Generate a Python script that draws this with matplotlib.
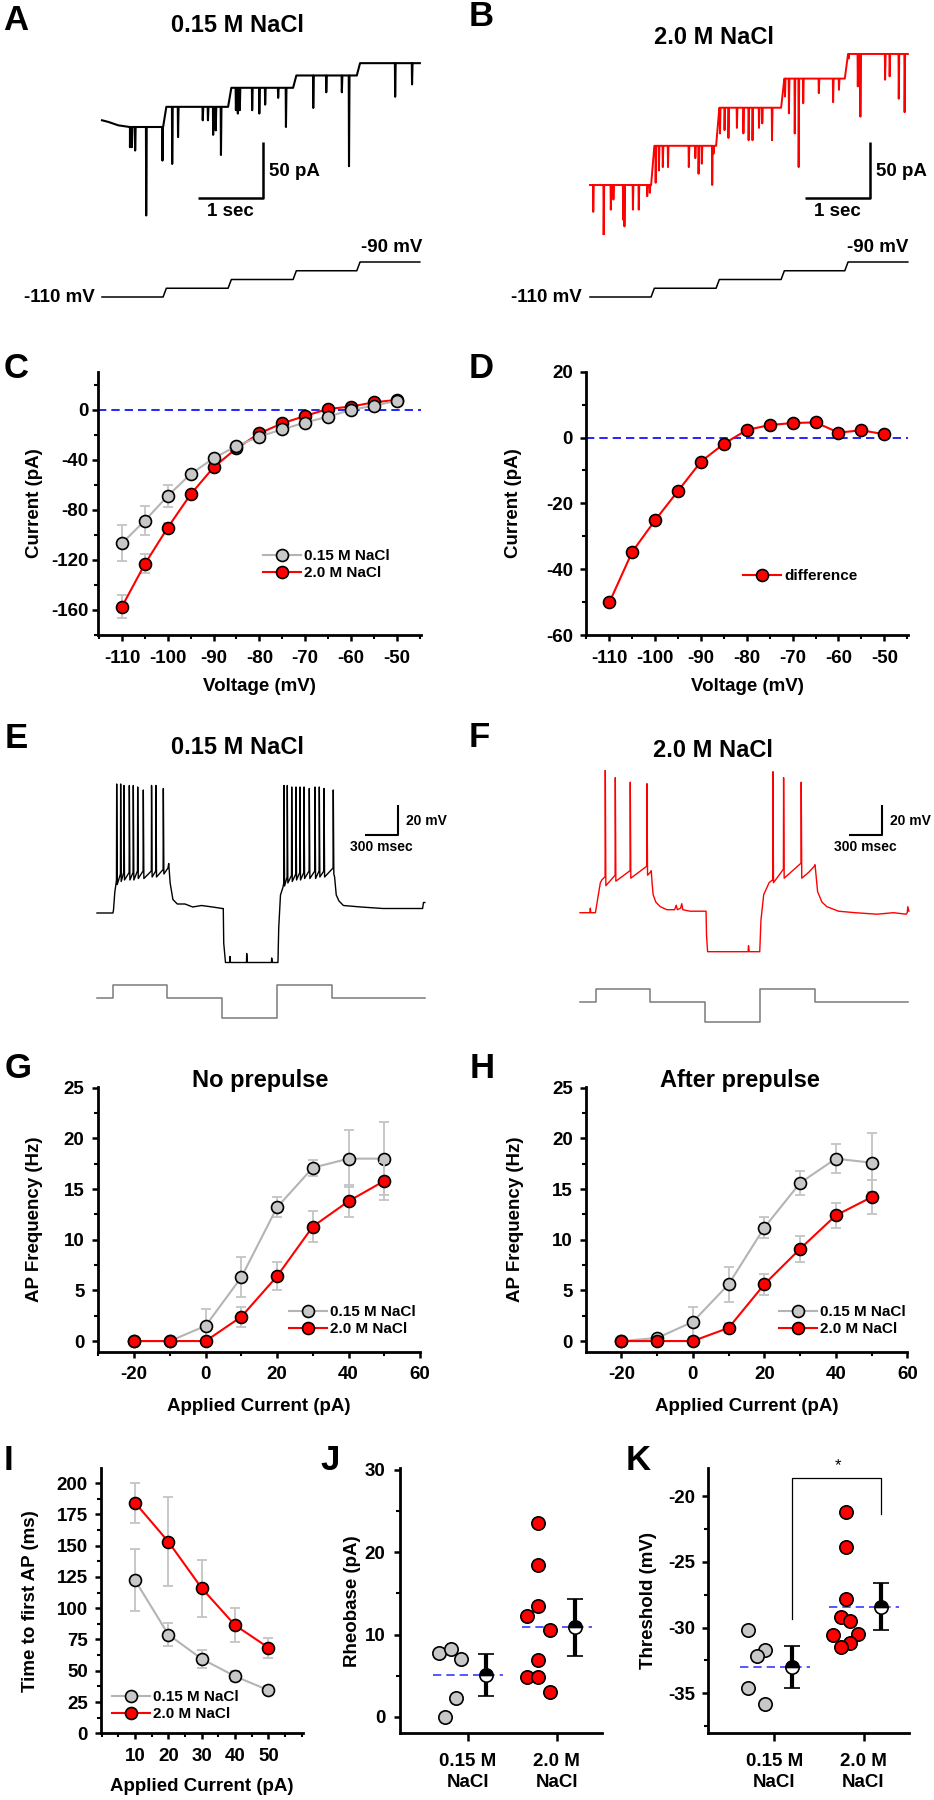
import numpy as np
import matplotlib
matplotlib.use("Agg")
import matplotlib.pyplot as plt
from matplotlib.ticker import MultipleLocator

plt.rcParams['font.family'] = ['Liberation Sans', 'DejaVu Sans']
plt.rcParams['font.weight'] = 'bold'
plt.rcParams['axes.labelweight'] = 'bold'
plt.rcParams['axes.unicode_minus'] = False

W, H = 934, 1800
RED = '#FF0000'
GRAY = '#C8C8C8'
GRAY_LINE = '#B4B4B4'
ERR = '#C4C4C4'
BLUE = '#0000FF'

# ---------------- data ----------------
# A / B: voltage-clamp step recordings (time in s, current in pA relative to first step)
step_bounds = [0, 0.94, 1.94, 2.94, 3.92, 4.89]
cmd_levels = [-110, -105, -100, -95, -90]

A_levels = [0, 18, 35, 46, 57]
A_sag_t = [0, 0.1, 0.25, 0.43]
A_sag_v = [6, 4.5, 1.5, 0]
A_evt_t = [0.43, 0.46, 0.51, 0.68, 0.93, 1.08, 1.17, 1.55, 1.63, 1.71, 1.75, 1.83,
           2.06, 2.09, 2.12, 2.31, 2.42, 2.51, 2.71, 2.83, 3.25, 3.45, 3.69, 3.80,
           4.51, 4.77]
A_evt_v = [-18, -18, -21, -79, -30, -33, -9, 6, 6, -7, -3, -25,
           15, 12, 15, 15, 12, 20, 26, 0, 17, 31, 31, -35,
           27, 38]

B_levels = [0, 35, 69, 95, 117]
B_evt_t = [0.05, 0.21, 0.32, 0.36, 0.51, 0.53, 0.66, 0.75, 0.88, 0.92,
           1.01, 1.06, 1.12, 1.20, 1.52, 1.62, 1.67, 1.72, 1.88, 1.90,
           2.00, 2.07, 2.13, 2.26, 2.36, 2.44, 2.50, 2.60, 2.65, 2.80,
           3.00, 3.06, 3.15, 3.21, 3.28, 3.52, 3.74, 3.83,
           3.98, 4.12, 4.16, 4.54, 4.61, 4.75, 4.84]
B_evt_v = [-24, -49, -22, -13, -31, -37, -22, -22, -10, -7,
           2, 13, 16, 16, 16, 24, 10, 19, 0, 28,
           46, 49, 42, 51, 46, 40, 40, 51, 55, 40,
           79, 64, 46, 16, 73, 82, 74, 85,
           113, 88, 61, 94, 97, 77, 65]

# C / D: I-V relations
volt = [-110, -105, -100, -95, -90, -85, -80, -75, -70, -65, -60, -55, -50]
iv_low = [-106.7, -88.5, -68.8, -51.2, -38.7, -28.8, -21.3, -15.5, -10.1, -5.3, 0.0, 3.5, 7.2]
iv_low_err = [14.3, 11.5, 8.5, 2.5, 2, 2, 2, 1.5, 1.5, 1.5, 1.5, 1.5, 1.5]
iv_high = [-157.3, -123.2, -94.1, -67.5, -45.9, -30.7, -18.7, -10.7, -4.8, 0.8, 2.7, 6.1, 8.0]
iv_high_err = [9.3, 7.6, 4, 3, 2, 2, 2, 1.5, 1.5, 1.5, 1.5, 1.5, 1.5]
iv_diff = [-50.1, -34.7, -25.1, -16.2, -7.3, -1.9, 2.3, 3.8, 4.4, 4.6, 1.5, 2.2, 1.0]

# E / F: current-clamp recordings (time in ms, mV relative to rest)
stim_bounds = [0, 145, 636, 1136, 1636, 2136, 2982]
stim_levels = [0, 20, 0, -32, 20, 0]

E_env_t = [0, 145, 150, 162, 172, 645, 652, 665, 690, 730, 800, 870, 950, 1050, 1140,
           1148, 1152, 1168, 1207, 1209, 1213, 1359, 1361, 1366, 1586, 1588, 1593, 1645,
           1652, 1668, 1690, 2160, 2175, 2200, 2240, 2400, 2600, 2800, 2960, 2968, 2980]
E_env_v = [0, 0, 2, 14, 19, 30, 33, 20, 9, 6, 6, 4, 5, 4, 3,
           3, -20, -33, -33, -29, -33, -33, -27, -33, -33, -30, -33, -33,
           -10, 12, 17, 24, 12, 8, 5, 4, 3, 3, 3, 7, 7]
E_spk_t = [179, 215, 245, 294, 330, 370, 421, 496, 536, 603,
           1700, 1730, 1770, 1809, 1845, 1882, 1930, 1982, 2021, 2064, 2148]
E_spk_peak = [86, 86, 85, 85, 85, 84, 82, 85, 85, 83,
              85, 85, 84, 84, 84, 84, 83, 84, 84, 83, 82]
E_spk_thr = [22, 26, 27, 27, 27, 28, 28, 28, 28, 29,
             20, 24, 25, 26, 27, 27, 28, 28, 28, 28, 30]
E_spk_ahp = [19, 21, 22, 22, 22, 23, 23, 24, 24, 26,
             18, 20, 21, 22, 22, 23, 23, 23, 24, 24, 26]

F_env_t = [0, 90, 94, 98, 140, 185, 200, 640, 648, 655, 665, 690, 730, 790, 860, 875,
           885, 915, 925, 935, 1000, 1094, 1146, 1150, 1160, 1528, 1532, 1538, 1634,
           1645, 1670, 1719, 2080, 2130, 2136, 2142, 2160, 2200, 2245, 2350, 2500,
           2700, 2850, 2965, 2975, 2980, 2990]
F_env_v = [0, 0, 3, 0, 0, 20, 22, 27, 28, 20, 12, 7, 4, 2, 2, 5,
           2, 3, 6, 2, 1, 1, 1, -15, -26, -26, -22, -26, -26,
           -5, 12, 20, 27, 31, 32, 28, 14, 7, 4, 1, 0,
           -1, 0, -1, 0, 4, 1]
F_spk_t = [230, 321, 457, 609, 1754, 1851, 2011]
F_spk_peak = [95, 90, 87, 86, 94, 90, 87]
F_spk_thr = [24, 25, 28, 31, 22, 29, 33]
F_spk_ahp = [18, 21, 23, 25, 20, 23, 23]

# G / H: firing frequency vs applied current
inj = [-20, -10, 0, 10, 20, 30, 40, 50]
G_low = [0, 0, 1.5, 6.3, 13.2, 17.1, 18.0, 18.0]
G_low_err = [0, 0, 1.7, 2.0, 1.0, 0.8, 2.8, 3.6]
G_high = [0, 0, 0, 2.4, 6.4, 11.3, 13.8, 15.8]
G_high_err = [0, 0, 0, 1.0, 1.4, 1.5, 1.6, 1.9]
H_low = [0, 0.3, 1.9, 5.6, 11.2, 15.6, 18.0, 17.6]
H_low_err = [0, 0.3, 1.5, 1.7, 1.0, 1.2, 1.4, 2.9]
H_high = [0, 0, 0, 1.3, 5.6, 9.1, 12.4, 14.2]
H_high_err = [0, 0, 0, 0.5, 1.05, 1.25, 1.2, 1.7]

# I: latency to first AP
lat_x = [10, 20, 30, 40, 50]
lat_low = [122.4, 78.9, 59.5, 45.6, 34.4]
lat_low_err = [25, 9, 7, 4, 3]
lat_high = [184.3, 153.1, 116.0, 86.4, 68.5]
lat_high_err = [16, 35.7, 22.8, 13.6, 8]

# J / K: individual cells, mean +/- SEM
groups = ['0.15 M\nNaCl', '2.0 M\nNaCl']
rheo_low = [7.8, 8.2, 7.0, 2.35, 0.0]
rheo_high = [23.5, 18.4, 13.5, 12.2, 10.5, 6.9, 4.9, 4.9, 3.0]
rheo_mean = [5.07, 10.86]
rheo_sem = [2.55, 3.5]
thr_low = [-30.2, -31.7, -32.2, -34.6, -35.8]
thr_high = [-21.2, -23.9, -27.8, -29.2, -29.5, -30.6, -30.5, -31.2, -31.5]
thr_mean = [-32.97, -28.4]
thr_sem = [1.6, 1.8]

# horizontal jitter of the dots (positions, not data)
rheo_low_dx = [-0.32, -0.19, -0.07, -0.13, -0.26]
rheo_high_dx = [-0.21, -0.21, -0.21, -0.33, -0.08, -0.21, -0.33, -0.21, -0.08]
thr_low_dx = [-0.29, -0.10, -0.19, -0.29, -0.10]
thr_high_dx = [-0.20, -0.20, -0.20, -0.25, -0.15, -0.34, -0.06, -0.15, -0.25]


# ---------------- helpers ----------------
def px_box(l, t, r, b):
    return [l / W, 1 - b / H, (r - l) / W, (b - t) / H]


def ftext(x, y, s, **kw):
    return fig.text(x / W, 1 - y / H, s, **kw)


def trace_axes(l, t, r, b, x0, y0, xs, ys):
    # (x0, y0): pixel of data origin, xs / ys: pixels per data unit
    ax = fig.add_axes(px_box(l, t, r, b))
    ax.set_xlim((l - x0) / xs, (r - x0) / xs)
    ax.set_ylim((y0 - b) / ys, (y0 - t) / ys)
    ax.axis('off')
    return ax


def step_trace(bounds, levels, ramp):
    t, v = [bounds[0]], [levels[0]]
    for i in range(1, len(levels)):
        t += [bounds[i], bounds[i] + ramp]
        v += [levels[i - 1], levels[i]]
    t.append(bounds[-1])
    v.append(levels[-1])
    return np.array(t, float), np.array(v, float)


def add_events(t, v, ev_t, ev_v, wb=0.004, wa=0.008):
    ev_t = np.asarray(ev_t, float)
    base = np.interp(ev_t, t, v)
    tt = np.concatenate([t, ev_t - wb, ev_t, ev_t + wa])
    vv = np.concatenate([v, base, ev_v, base])
    o = np.argsort(tt, kind='stable')
    return tt[o], vv[o]


def add_aps(env_t, env_v, st, peak, thr, ahp):
    st = np.asarray(st, float)
    tt = np.concatenate([env_t, st - 2, st, st + 5])
    vv = np.concatenate([env_v, thr, peak, ahp])
    o = np.argsort(tt, kind='stable')
    return tt[o], vv[o]


def style(ax, xpad=6, ypad=3):
    for s in ['top', 'right']:
        ax.spines[s].set_visible(False)
    for s in ['left', 'bottom']:
        ax.spines[s].set_linewidth(2.0)
    ax.tick_params(which='major', direction='out', length=4.5, width=1.8, labelsize=13.5)
    ax.tick_params(which='minor', direction='out', length=2.8, width=1.5)
    ax.tick_params(axis='x', which='major', pad=xpad)
    ax.tick_params(axis='y', which='major', pad=ypad)


def series(ax, x, y, err, face, line, label, z):
    ax.errorbar(x, y, yerr=err, fmt='none', ecolor=ERR, elinewidth=1.3,
                capsize=3.5, capthick=1.3, zorder=z)
    ax.plot(x, y, '-o', color=line, lw=1.5, ms=8.6, mfc=face, mec='black',
            mew=1.2, label=label, zorder=z + 1)


def legend(ax, x, y, handles=None):
    h, l = ax.get_legend_handles_labels()
    if handles is not None:
        h = [h[i] for i in handles]
        l = [l[i] for i in handles]
    ax.legend(h, l, loc='upper left', bbox_to_anchor=(x / W, 1 - y / H),
              bbox_transform=fig.transFigure, frameon=False, borderpad=0,
              borderaxespad=0, handlelength=2.5, handletextpad=0.2,
              labelspacing=0.22, prop={'weight': 'bold', 'size': 11})


def labels(ax, box, xlabel, ylabel, xlab_top, ylab_right):
    l, t, r, b = box
    ax.set_xlabel(xlabel, fontsize=13.5)
    ax.set_ylabel(ylabel, fontsize=13.5)
    ax.xaxis.set_label_coords(0.5, -(xlab_top - b) / (b - t))
    ax.yaxis.set_label_coords((ylab_right - l) / (r - l), 0.5)


fig = plt.figure(figsize=(W / 100, H / 100), dpi=100)

# panel letters and titles
for letter, x, y in [('A', 3, 20), ('B', 469, 17), ('C', 4, 368), ('D', 469, 368),
                     ('E', 5, 739), ('F', 469, 738), ('G', 5, 1068), ('H', 470, 1068),
                     ('I', 4, 1460), ('J', 320, 1460), ('K', 626, 1460)]:
    ftext(x, y, letter, fontsize=25, ha='left', va='center')
for s, x, y in [('0.15 M NaCl', 237, 25), ('2.0 M NaCl', 714, 38),
                ('0.15 M NaCl', 237, 748), ('2.0 M NaCl', 713, 750),
                ('No prepulse', 260, 1080), ('After prepulse', 740, 1080)]:
    ftext(x, y, s, fontsize=17, ha='center', va='center')

# ---------------- A / B ----------------
RAMP = 0.05
for (x0, y0, lev, ev_t, ev_v, col, sag, bar_t, bar_v, lw) in [
        (102, 127, A_levels, A_evt_t, A_evt_v, 'black', True, 2.48, -13.4, 1.5),
        (590, 185, B_levels, B_evt_t, B_evt_v, RED, False, 4.31, 38.4, 1.4)]:
    ax = trace_axes(x0 - 80, 40, x0 + 340, 235, x0, y0, 65, 1.12)
    t, v = step_trace(step_bounds, lev, RAMP)
    if sag:
        t = np.concatenate([A_sag_t, t[1:]])
        v = np.concatenate([A_sag_v, v[1:]])
    t, v = add_events(t, v, ev_t, ev_v)
    ax.plot(t, v, color=col, lw=lw)
    ax.plot([bar_t - 1, bar_t, bar_t], [bar_v - 50, bar_v - 50, bar_v],
            color='black', lw=1.8, solid_capstyle='butt')
    axc = trace_axes(x0 - 80, 240, x0 + 340, 310, x0, 297 - 110 * 1.75, 65, 1.75)
    ct, cv = step_trace(step_bounds, cmd_levels, RAMP)
    axc.plot(ct, cv, color='black', lw=1.1)

ftext(269, 172, '50 pA', fontsize=13.5, ha='left', va='center')
ftext(876, 172, '50 pA', fontsize=13.5, ha='left', va='center')
ftext(230, 212, '1 sec', fontsize=13.5, ha='center', va='center')
ftext(837, 212, '1 sec', fontsize=13.5, ha='center', va='center')
ftext(95, 297, '-110 mV', fontsize=13.5, ha='right', va='center')
ftext(582, 297, '-110 mV', fontsize=13.5, ha='right', va='center')
ftext(422, 247, '-90 mV', fontsize=13.5, ha='right', va='center')
ftext(908, 247, '-90 mV', fontsize=13.5, ha='right', va='center')

# ---------------- C ----------------
boxC = (97.7, 371.7, 420.7, 635)
axC = fig.add_axes(px_box(*boxC))
axC.axhline(0, color=BLUE, lw=1.2, ls=(0, (5, 3)), zorder=0)
series(axC, volt, iv_high, iv_high_err, RED, RED, '2.0 M NaCl', 2)
series(axC, volt, iv_low, iv_low_err, GRAY, GRAY_LINE, '0.15 M NaCl', 4)
axC.set_xlim(-115.3, -44.76)
axC.set_ylim(-180, 30.6)
axC.set_xticks(volt[::2])
axC.xaxis.set_minor_locator(MultipleLocator(5))
axC.set_yticks([-160, -120, -80, -40, 0])
axC.yaxis.set_minor_locator(MultipleLocator(20))
style(axC, xpad=6, ypad=2)
labels(axC, boxC, 'Voltage (mV)', 'Current (pA)', 678, 42.7)
legend(axC, 263, 549, handles=[1, 0])

# ---------------- D ----------------
boxD = (586, 371.7, 908.3, 635)
axD = fig.add_axes(px_box(*boxD))
axD.axhline(0, color=BLUE, lw=1.2, ls=(0, (5, 3)), zorder=0)
axD.plot(volt, iv_diff, '-o', color=RED, lw=1.5, ms=8.6, mfc=RED, mec='black',
         mew=1.2, label='difference', zorder=3)
axD.set_xlim(-115.1, -44.76)
axD.set_ylim(-60, 20)
axD.set_xticks(volt[::2])
axD.xaxis.set_minor_locator(MultipleLocator(5))
axD.set_yticks([-60, -40, -20, 0, 20])
axD.yaxis.set_minor_locator(MultipleLocator(10))
style(axD, xpad=6, ypad=5)
labels(axD, boxD, 'Voltage (mV)', 'Current (pA)', 678, 522)
legend(axD, 743, 569)

# ---------------- E / F ----------------
for (x0, y0, sy0, et, ev, st, sp, sth, sah, col, bx) in [
        (97, 913, 997.7, E_env_t, E_env_v, E_spk_t, E_spk_peak, E_spk_thr, E_spk_ahp, 'black', 2736),
        (580, 912.7, 1002, F_env_t, F_env_v, F_spk_t, F_spk_peak, F_spk_thr, F_spk_ahp, RED, 2745)]:
    ax = trace_axes(x0 - 40, 770, x0 + 350, 975, x0, y0, 0.11, 1.5)
    t, v = add_aps(et, ev, st, sp, sth, sah)
    ax.plot(t, v, color=col, lw=1.0)
    ax.plot([bx - 300, bx, bx], [52, 52, 72], color='black', lw=1.5, solid_capstyle='butt')
    axs = trace_axes(x0 - 40, 978, x0 + 350, 1035, x0, sy0, 0.11, 0.635)
    stt, stv = step_trace(stim_bounds, stim_levels, 0)
    axs.plot(stt, stv, color='#7A7A7A', lw=1.1)

ftext(406, 821, '20 mV', fontsize=10, ha='left', va='center')
ftext(890, 821, '20 mV', fontsize=10, ha='left', va='center')
ftext(381, 847, '300 msec', fontsize=10, ha='center', va='center')
ftext(865, 847, '300 msec', fontsize=10, ha='center', va='center')

# ---------------- G / H ----------------
for (box, lo, lo_e, hi, hi_e, xlim, ylab_r, leg_x) in [
        ((97.7, 1086.7, 420, 1351.7), G_low, G_low_err, G_high, G_high_err, (-30.2, 60), 43.3, 289),
        ((586, 1086.7, 907.3, 1351.7), H_low, H_low_err, H_high, H_high_err, (-29.9, 60), 524.3, 779)]:
    ax = fig.add_axes(px_box(*box))
    series(ax, inj, lo, lo_e, GRAY, GRAY_LINE, '0.15 M NaCl', 2)
    series(ax, inj, hi, hi_e, RED, RED, '2.0 M NaCl', 4)
    ax.set_xlim(*xlim)
    ax.set_ylim(-1.05, 25.1)
    ax.set_xticks([-20, 0, 20, 40, 60])
    ax.xaxis.set_minor_locator(MultipleLocator(10))
    ax.set_yticks([0, 5, 10, 15, 20, 25])
    ax.yaxis.set_minor_locator(MultipleLocator(2.5))
    style(ax, xpad=6, ypad=5)
    labels(ax, box, 'Applied Current (pA)', 'AP Frequency (Hz)', 1398, ylab_r)
    legend(ax, leg_x, 1305)

# ---------------- I ----------------
boxI = (101, 1468, 302.7, 1733.3)
axI = fig.add_axes(px_box(*boxI))
series(axI, lat_x, lat_low, lat_low_err, GRAY, GRAY_LINE, '0.15 M NaCl', 2)
series(axI, lat_x, lat_high, lat_high_err, RED, RED, '2.0 M NaCl', 4)
axI.set_xlim(-0.2, 60.3)
axI.set_ylim(0, 212)
axI.set_xticks(lat_x)
axI.xaxis.set_minor_locator(MultipleLocator(5))
axI.set_yticks(np.arange(0, 201, 25))
axI.yaxis.set_minor_locator(MultipleLocator(12.5))
style(axI, xpad=6, ypad=5)
labels(axI, boxI, 'Applied Current (pA)', 'Time to first AP (ms)', 1778, 39.3)
legend(axI, 112, 1690)


# ---------------- J / K ----------------
def scatter_panel(box, x_left, low, low_dx, high, high_dx, mean, sem, ylim, yticks, minor,
                  ylabel, ylab_r, ypad):
    ax = fig.add_axes(px_box(*box))
    ax.plot([1 + d for d in low_dx], low, 'o', ms=9.6, mfc=GRAY, mec='black', mew=1.2, zorder=3)
    ax.plot([2 + d for d in high_dx], high, 'o', ms=9.6, mfc=RED, mec='black', mew=1.2, zorder=3)
    for i, c in enumerate([1, 2]):
        ax.plot([c - 0.39, c + 0.40], [mean[i], mean[i]], color='#3A3AFF', lw=1.2,
                ls=(0, (5, 3)), zorder=2)
        ax.errorbar(c + 0.2, mean[i], yerr=sem[i], fmt='o', color='black', ms=9.6,
                    mfc='black', mec='black', mew=1.2, fillstyle='top',
                    markerfacecoloralt='white', elinewidth=3, capsize=5.5,
                    capthick=3, zorder=4)
    ax.set_xlim(x_left, 2.51)
    ax.set_ylim(*ylim)
    ax.set_xticks([1, 2])
    ax.set_xticklabels(groups, fontsize=13.5, linespacing=1.25)
    ax.set_yticks(yticks)
    ax.yaxis.set_minor_locator(MultipleLocator(minor))
    style(ax, xpad=9, ypad=ypad)
    ax.tick_params(axis='x', which='major', length=5.5)
    ax.set_ylabel(ylabel, fontsize=13.5)
    l, t, r, b = box
    ax.yaxis.set_label_coords((ylab_r - l) / (r - l), 0.5)
    return ax


axJ = scatter_panel((400, 1468.3, 602.3, 1733.3), 0.24, rheo_low, rheo_low_dx, rheo_high,
                    rheo_high_dx, rheo_mean, rheo_sem, (-2.0, 30.2), [0, 10, 20, 30], 5,
                    'Rheobase (pA)', 360.7, 6)
axK = scatter_panel((708.3, 1468.3, 909, 1733.3), 0.26, thr_low, thr_low_dx, thr_high,
                    thr_high_dx, thr_mean, thr_sem, (-38.05, -17.87), [-35, -30, -25, -20], 2.5,
                    'Threshold (mV)', 656.7, 5)

# significance bracket
K_bracket_x = [1.195, 2.2]
K_bracket_y = [-29.37, -18.58, -21.35]
axK.plot([K_bracket_x[0], K_bracket_x[0], K_bracket_x[1], K_bracket_x[1]],
         [K_bracket_y[0], K_bracket_y[1], K_bracket_y[1], K_bracket_y[2]],
         color='black', lw=0.9, zorder=1)
axK.text(1.71, -17.7, '*', ha='center', va='center', fontsize=12,
         fontweight='normal', clip_on=False)

fig.savefig('out.png', dpi=100)
